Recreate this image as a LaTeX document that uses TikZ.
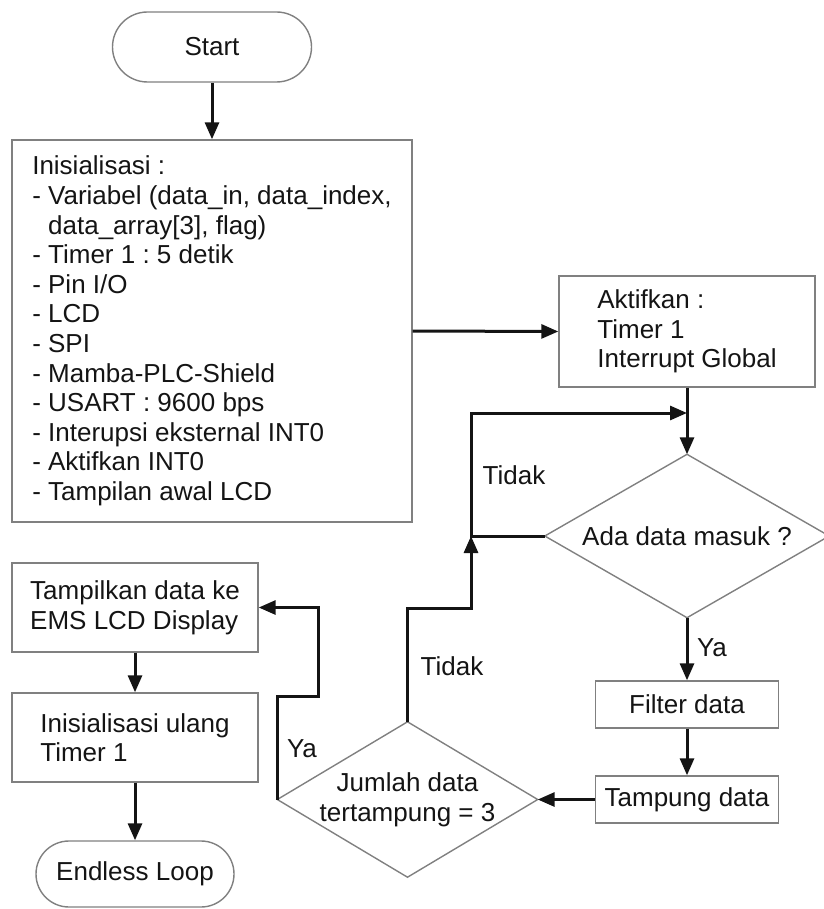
\documentclass[tikz,border=0pt]{standalone}
\usepackage{fontspec}
\setmainfont{Liberation Sans}
\frenchspacing
\usetikzlibrary{arrows.meta}
\begin{document}
\begin{tikzpicture}[x=1pt,y=-1pt,
  every node/.style={font=\fontsize{26pt}{29.6pt}\selectfont, text=black!92},
  box/.style={draw=black!50, line width=1.4pt, rectangle, inner sep=0pt, align=left},
  term/.style={draw=black!50, line width=1.4pt, rectangle, rounded corners=#1, inner sep=0pt},
  % decision: an invisible frame whose side midpoints are the diamond's corners
  dec/.style={rectangle, inner sep=0pt, align=center},
  decline/.style={draw=black!50, line width=1.4pt, line join=miter},
  conn/.style={line width=3pt, draw=black!92, -{Triangle[length=17pt,width=14pt]}},
  lbl/.style={inner sep=0pt}]

\useasboundingbox (0,0) rectangle (823,909);

% --- main column ---
\node[term=35pt, minimum width=199pt, minimum height=70pt] (start) at (212,47) {Start};
\node[box, minimum width=400pt, minimum height=382pt] (init) at (212,331) {%
Inisialisasi :\\
- Variabel (data\_in, data\_index,\\
\phantom{- }data\_array[3], flag)\\
- Timer 1 : 5 detik\\
- Pin I/O\\
- LCD\\
- SPI\\
- Mamba-PLC-Shield\\
- USART : 9600 bps\\
- Interupsi eksternal INT0\\
- Aktifkan INT0\\
- Tampilan awal LCD};

\node[box, minimum width=256pt, minimum height=111pt] (akt) at (687,331.5) {Aktifkan :\\Timer 1\\Interrupt Global};
\node[dec, minimum width=284pt, minimum height=163pt] (ada) at (687,536) {Ada data masuk ?};
\draw[decline] (ada.north) -- (ada.east) -- (ada.south) -- (ada.west) -- cycle;
\node[box, align=center, minimum width=183pt, minimum height=47pt] (filter) at (687,704.5) {Filter data};
\node[box, align=center, minimum width=183pt, minimum height=47pt] (tampung) at (687,799.5) {Tampung data};
\node[dec, minimum width=260pt, minimum height=155pt] (jml) at (407.5,799.5) {Jumlah data\\tertampung = 3};
\draw[decline] (jml.north) -- (jml.east) -- (jml.south) -- (jml.west) -- cycle;

% --- output column ---
\node[box, minimum width=246pt, minimum height=89pt] (tampil) at (135,607.5) {Tampilkan data ke\\EMS LCD Display};
\node[box, minimum width=246pt, minimum height=89pt] (ulang) at (135,737.5) {Inisialisasi ulang\\Timer 1};
\node[term=33pt, minimum width=198pt, minimum height=66pt] (endless) at (135,874) {Endless Loop};

% --- routing points ---
\coordinate (m1) at (687,413);
\coordinate (k1) at (471,536);
\coordinate (k2) at (471,608);
\coordinate (ya1) at (318,696);

% --- connectors ---
\draw[conn] (start) -- (init);
\draw[conn] (init.east) -- (akt.west);
\draw[conn] (akt.south) -- (ada.north);
\draw[conn] (ada.west) -- (k1) |- (m1);
\draw[conn] (ada.south) -- (filter.north);
\draw[conn] (filter) -- (tampung);
\draw[conn] (tampung.west) -- (jml.east);
\draw[conn] (jml.north) |- (k2) -- (k1);
\draw[conn] (jml.west) |- (ya1) |- (tampil.east);
\draw[conn] (tampil) -- (ulang);
\draw[conn] (ulang) -- (endless);

% --- branch labels ---
\node[lbl] (t1) at (514,475) {Tidak};
\node[lbl] (t2) at (452,666) {Tidak};
\node[lbl] (y1) at (712,648) {Ya};
\node[lbl] (y2) at (302,749) {Ya};
\end{tikzpicture}
\end{document}
